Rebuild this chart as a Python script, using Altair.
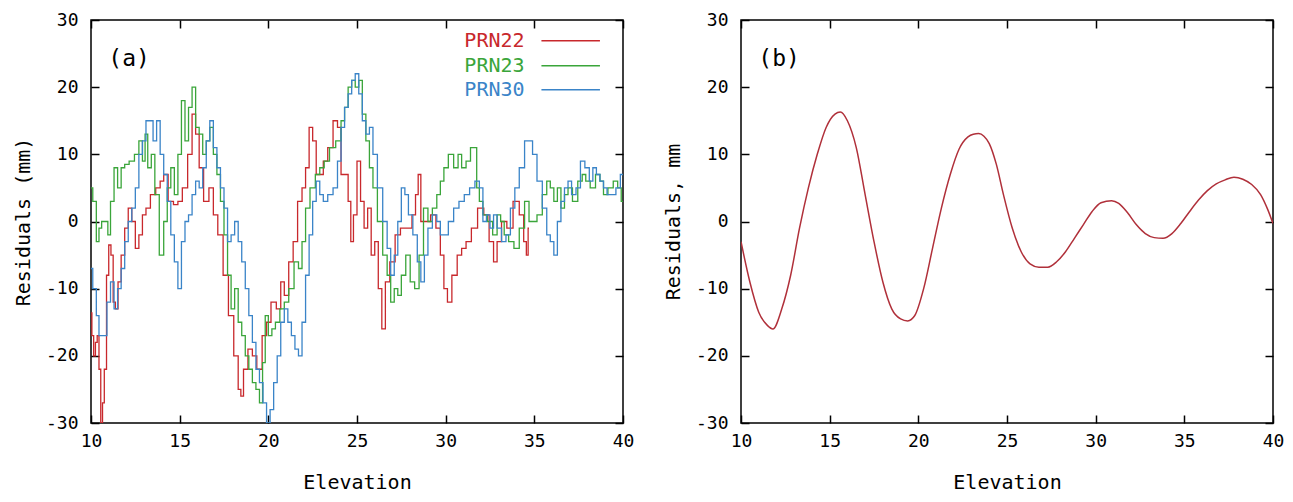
import altair as alt
import pandas as pd

# ---------------- data ----------------
series_names = ["PRN22", "PRN23", "PRN30"]

prn22_x = [10.0, 10.1, 10.2, 10.3, 10.4, 10.5, 10.6, 10.7, 10.8, 10.95, 11.05, 11.2, 11.3, 11.45,
           11.6, 11.8, 12.0, 12.2, 12.4, 12.6, 12.8, 13.0, 13.2, 13.5, 13.8, 14.0, 14.2, 14.5, 14.8,
           15.0, 15.3, 15.6, 15.8, 16.0, 16.2, 16.5, 16.8, 17.0, 17.3, 17.6, 17.9, 18.2, 18.4, 18.5,
           18.7, 19.0, 19.2, 19.5, 19.8, 20.0, 20.3, 20.6, 20.8, 21.0, 21.3, 21.5, 21.8, 22.0, 22.2,
           22.4, 22.6, 22.8, 23.0, 23.2, 23.5, 23.8, 24.0, 24.2, 24.4, 24.6, 24.7, 24.9, 25.1, 25.3,
           25.5, 25.7, 25.9, 26.1, 26.3, 26.5, 26.7, 27.0, 27.3, 27.6, 28.0, 28.2, 28.4, 28.5, 28.7,
           29.0, 29.3, 29.6, 29.8, 30.0, 30.2, 30.5, 30.8, 31.0, 31.3, 31.6, 32.0, 32.3, 32.6, 32.8,
           33.0, 33.3, 33.6, 34.0, 34.3, 34.5, 34.6, 34.7]
prn22_y = [-13.6, -17, -20, -18, -17, -22, -30, -27, -22, -8, -3.5, -5, -12, -13,
           -9, -5, -1, 2, 0, -4, -2, 1, 2, 4, 5, 6, 7, 3, 2.5,
           3, 5, 10, 16, 13, 8, 3, 5, 1, -2, -8, -14, -20, -25, -26,
           -22, -19, -20, -22, -17, -15, -12, -13, -9, -11, -6, -3, 3, 5, 8,
           14, 12, 7, 7, 9, 11, 15, 14, 7, 7, 3, -3, 1, 9, 3,
           -1, 2, -5, -3, -10, -16, -9, -6, -2, -1, -1, 1, 4, 7, 0,
           0, 1, -1, -5, -10, -12, -8, -5, -4, -3, -1, 2, 1, -3, -6,
           -3, 0, -1, 3, 1, -3, -5, -1]

prn23_x = [10.0, 10.2, 10.4, 10.5, 10.7, 10.9, 11.0, 11.2, 11.4, 11.6, 11.8, 12.0, 12.3, 12.6,
           12.8, 13.0, 13.1, 13.3, 13.5, 13.7, 14.0, 14.2, 14.4, 14.6, 14.8, 15.0, 15.2, 15.4, 15.6,
           15.8, 16.0, 16.2, 16.4, 16.6, 16.8, 17.0, 17.2, 17.4, 17.6, 17.8, 18.0, 18.2, 18.4, 18.6,
           18.8, 19.0, 19.2, 19.4, 19.6, 19.75, 19.9, 20.1, 20.3, 20.5, 20.8, 21.0, 21.3, 21.6, 21.8,
           22.0, 22.2, 22.5, 22.8, 23.0, 23.3, 23.6, 24.0, 24.2, 24.4, 24.6, 24.8, 25.0, 25.2, 25.4,
           25.6, 25.8, 26.0, 26.3, 26.6, 26.8, 27.0, 27.2, 27.4, 27.6, 27.9, 28.1, 28.4, 28.6, 28.9,
           29.1, 29.4, 29.6, 29.8, 30.0, 30.3, 30.6, 30.8, 31.0, 31.3, 31.5, 31.7, 31.8, 32.0, 32.2,
           32.5, 32.8, 33.0, 33.2, 33.4, 33.7, 34.0, 34.3, 34.6, 34.8, 35.0, 35.3, 35.6, 35.8, 36.0,
           36.2, 36.4, 36.6, 36.8, 37.0, 37.3, 37.6, 37.8, 38.0, 38.3, 38.6, 38.8, 39.0, 39.3, 39.6,
           39.8, 40.0]
prn23_y = [5, 3, -3, -1, 0, 0, -2, 3, 8, 5, 8, 8.5, 9, 10,
           12, 9, 13, 8, 10, 4, -5, 0, 5, 8, 4, 10, 18, 12, 17,
           20, 14, 13, 10, 12, 14, 10, 7, 3, -2, -8, -13, -10, -15, -17,
           -20, -22, -24, -25, -27, -21, -14, -17, -16, -15, -13, -12, -10, -6, -7,
           -3, 2, 5, 7, 8, 9, 11, 12, 15, 17, 20, 21, 20, 21, 16,
           12, 8, 5, 0, -5, -8, -12, -10, -11, -8, -5, -9, -10, -5, 2,
           0, 2, 4, 6, 8, 10, 8, 10, 8, 9, 11, 11, 5, 3, 1,
           0, -2, 1, 0, -2, -3, -4, -1, 3, 0, 0, 1, 4, 6, 5,
           3, 5, 2, 4, 5, 3, 6, 7, 6, 5, 7, 6, 4, 5, 6,
           5, 3]

prn30_x = [10.0, 10.2, 10.4, 10.5, 10.8, 11.0, 11.2, 11.4, 11.6, 11.8, 12.0, 12.2, 12.4, 12.6,
           12.8, 13.0, 13.2, 13.4, 13.6, 13.8, 14.0, 14.2, 14.4, 14.6, 14.8, 15.0, 15.2, 15.4, 15.6,
           15.8, 16.0, 16.2, 16.4, 16.6, 16.8, 17.0, 17.2, 17.4, 17.6, 17.8, 18.0, 18.2, 18.4, 18.6,
           18.8, 19.0, 19.2, 19.4, 19.6, 19.8, 20.0, 20.2, 20.4, 20.6, 20.8, 21.0, 21.2, 21.4, 21.6,
           21.8, 22.0, 22.2, 22.4, 22.6, 22.8, 23.0, 23.2, 23.5, 23.8, 24.0, 24.2, 24.4, 24.6, 24.8,
           25.0, 25.2, 25.4, 25.6, 25.8, 26.0, 26.3, 26.6, 26.8, 27.0, 27.2, 27.4, 27.6, 27.8, 28.0,
           28.3, 28.5, 28.7, 28.9, 29.1, 29.4, 29.6, 29.8, 30.0, 30.3, 30.6, 30.9, 31.2, 31.5, 31.8,
           32.0, 32.2, 32.4, 32.6, 32.8, 33.0, 33.3, 33.5, 33.8, 34.0, 34.3, 34.6, 34.8, 35.0, 35.3,
           35.6, 35.8, 36.0, 36.2, 36.4, 36.6, 36.8, 37.0, 37.2, 37.5, 37.7, 38.0, 38.2, 38.4, 38.6,
           38.8, 39.0, 39.2, 39.5, 39.7, 40.0]
prn30_y = [-7, -10, -14, -17, -17, -12, -9, -13, -10, -7, -3, 0, 2, 5,
           10, 12, 15, 15, 12, 15, 10, 7, 3, -2, -6, -10, -3, 0, 1,
           4, 6, 5, 8, 12, 15, 11, 8, 5, 2, -3, -2, 0, -3, -6,
           -10, -14, -18, -22, -24, -27, -30, -28, -24, -20, -15, -13, -15, -17, -19,
           -20, -15, -8, -2, 3, 6, 4, 3, 4, 5, 9, 14, 17, 19, 21,
           22, 19, 15, 13, 14, 10, 5, 0, -4, -8, -5, 0, 5, 4, 1,
           -2, -6, -9, -5, -1, 1, 0, -2, -2, 0, 2, 3, 4, 5, 6,
           5, 0, 1, -1, 1, -1, -3, -2, 2, 5, 8, 12, 12, 10, 6,
           2, -2, -3, -5, 0, 3, 5, 6, 4, 5, 9, 8, 6, 8, 7,
           6, 5, 4, 4, 5, 7]

model_x = [10.0, 10.5, 11.0, 11.5, 11.8, 12.3, 12.8, 13.3, 13.8, 14.3, 14.8, 15.3, 15.6, 16.0,
           16.5, 17.0, 17.5, 18.0, 18.5, 19.0, 19.4, 19.8, 20.3, 20.8, 21.3, 21.8, 22.3, 22.8,
           23.1, 23.4, 23.7, 24.0, 24.4, 24.8, 25.3, 25.8, 26.3, 26.8, 27.3, 27.8, 28.3, 28.8,
           29.3, 29.8, 30.3, 30.9, 31.3, 31.8, 32.3, 32.8, 33.3, 33.8, 34.3, 34.8, 35.3, 35.8,
           36.3, 36.8, 37.3, 37.8, 38.3, 38.8, 39.3, 39.7, 40.0]
model_y = [-3, -9, -13.5, -15.5, -16, -13, -8, -1, 5, 10, 14, 16, 16.3, 15,
           11, 4, -3, -9, -13, -14.5, -14.8, -14, -10, -4, 2, 7, 10.8, 12.6,
           13.0, 13.1, 12.7, 11.6, 8.5, 4, -1, -4.5, -6.3, -6.8, -6.8, -6, -4.5, -2.5,
           -0.5, 1.5, 2.8, 3.1, 2.7, 1.3, -0.5, -1.8, -2.4, -2.5, -1.8, -0.3, 1.5, 3.2,
           4.6, 5.6, 6.2, 6.6, 6.3, 5.5, 4, 1.8, -0.3]

x_ticks = [10, 15, 20, 25, 30, 35, 40]
y_ticks = [-30, -20, -10, 0, 10, 20, 30]
panel_labels = ["(a)", "(b)"]
y_titles = ["Residuals (mm)", "Residuals, mm"]
x_title = "Elevation"

# ---------------- styles / layout ----------------
series_colors = ["#c8282c", "#3aa53a", "#3a84c8"]
model_color = "#b0303a"
FONT = "DejaVu Sans Mono"
PLOT_W, PLOT_H = 532, 403
TICK = 8

# legend placement (in data units of panel a)
LEG_TEXT_X = 34.45
LEG_LINE_X0 = 35.4
LEG_LINE_X1 = 38.7
LEG_Y = [26.9, 23.2, 19.6]
LABEL_X, LABEL_Y = 12.15, 24.2

rows = []
for name, xs, ys in zip(series_names, [prn22_x, prn23_x, prn30_x], [prn22_y, prn23_y, prn30_y]):
    for a, b in zip(xs, ys):
        rows.append({"series": name, "elev": a, "res": b})
obs = pd.DataFrame(rows)
model = pd.DataFrame({"elev": model_x, "res": model_y})

xscale = alt.Scale(domain=[10, 40], nice=False, zero=False)
yscale = alt.Scale(domain=[-30, 30], nice=False, zero=False)
cscale = alt.Scale(domain=series_names, range=series_colors)


def main_x():
    return alt.Axis(orient="bottom", values=x_ticks, ticks=False, domain=False, grid=False,
                    labelFlush=False, labelOverlap=False, labelPadding=9,
                    title=x_title, titlePadding=22, labelExpr="datum.value + ''")


def main_y(title):
    return alt.Axis(orient="left", values=y_ticks, ticks=False, domain=False, grid=False,
                    labelPadding=13, labelOverlap=False, title=title, titlePadding=12,
                    labelExpr="datum.value + ''")


def tick_axis(orient, vals):
    return alt.Axis(orient=orient, values=vals, offset=-TICK, tickSize=TICK, ticks=True,
                    labels=False, domain=False, grid=False, title=None,
                    minExtent=0, maxExtent=0,
                    tickColor="black", tickWidth=1.5)


def tick_layers(df):
    lb = alt.Chart(df).mark_point(opacity=0).encode(
        x=alt.X("elev:Q", scale=xscale, axis=tick_axis("bottom", x_ticks)),
        y=alt.Y("res:Q", scale=yscale, axis=tick_axis("left", y_ticks)))
    tr = alt.Chart(df).mark_point(opacity=0).encode(
        x=alt.X("elev:Q", scale=xscale, axis=tick_axis("top", x_ticks)),
        y=alt.Y("res:Q", scale=yscale, axis=tick_axis("right", y_ticks)))
    return [lb, tr]


def label_layer(text):
    d = pd.DataFrame({"t": [text], "lx": [LABEL_X], "ly": [LABEL_Y]})
    return alt.Chart(d).mark_text(font=FONT, fontSize=23, align="center", baseline="middle",
                                  color="black").encode(
        x=alt.X("lx:Q", scale=xscale, axis=None),
        y=alt.Y("ly:Q", scale=yscale, axis=None),
        text="t:N")


# ---- panel (a)
lines_a = alt.Chart(obs).mark_line(interpolate="step", strokeWidth=1.3, clip=True).encode(
    x=alt.X("elev:Q", scale=xscale, axis=main_x()),
    y=alt.Y("res:Q", scale=yscale, axis=main_y(y_titles[0])),
    color=alt.Color("series:N", scale=cscale, legend=None),
    detail="series:N")

leg = pd.DataFrame({"series": series_names, "ly": LEG_Y,
                    "tx": [LEG_TEXT_X] * 3, "x0": [LEG_LINE_X0] * 3, "x1": [LEG_LINE_X1] * 3})
leg_text = alt.Chart(leg).mark_text(font=FONT, fontSize=20, align="right", baseline="middle").encode(
    x=alt.X("tx:Q", scale=xscale, axis=None),
    y=alt.Y("ly:Q", scale=yscale, axis=None),
    text="series:N",
    color=alt.Color("series:N", scale=cscale, legend=None))
leg_rule = alt.Chart(leg).mark_rule(strokeWidth=1.5).encode(
    x=alt.X("x0:Q", scale=xscale, axis=None),
    x2="x1:Q",
    y=alt.Y("ly:Q", scale=yscale, axis=None),
    color=alt.Color("series:N", scale=cscale, legend=None))

panel_a = alt.layer(lines_a, *tick_layers(obs), leg_text, leg_rule, label_layer(panel_labels[0])
                    ).resolve_axis(x="independent", y="independent").properties(width=PLOT_W, height=PLOT_H)

# ---- panel (b)
line_b = alt.Chart(model).mark_line(interpolate="monotone", strokeWidth=1.5, clip=True,
                                    color=model_color).encode(
    x=alt.X("elev:Q", scale=xscale, axis=main_x()),
    y=alt.Y("res:Q", scale=yscale, axis=main_y(y_titles[1])))

panel_b = alt.layer(line_b, *tick_layers(model), label_layer(panel_labels[1])
                    ).resolve_axis(x="independent", y="independent").properties(width=PLOT_W, height=PLOT_H)

chart = alt.hconcat(panel_a, panel_b, spacing=27).properties(
    padding={"left": 4, "top": 2, "right": 0, "bottom": 0}
).configure_axis(
    labelFont=FONT, labelFontSize=18, titleFont=FONT, titleFontSize=20,
    titleFontWeight="normal", labelColor="black", titleColor="black"
).configure_view(stroke="black", strokeWidth=1.5)

chart.save("out.html", embed_options={"renderer": "svg", "actions": False})
